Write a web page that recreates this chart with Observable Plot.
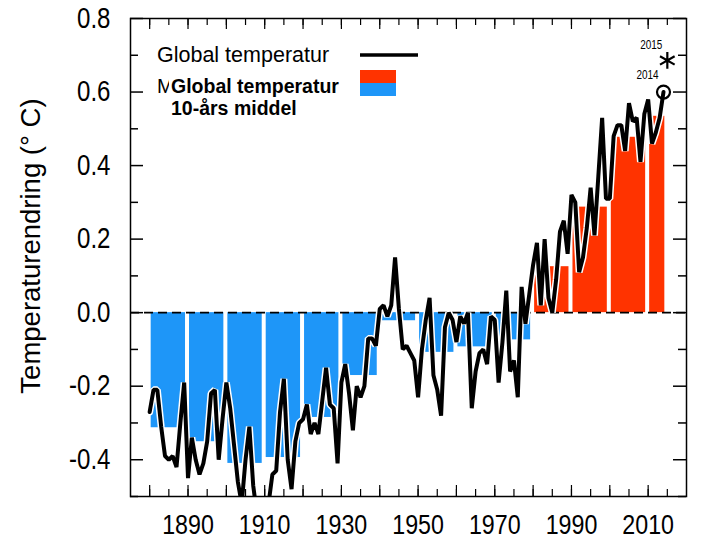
<!DOCTYPE html>
<html>
<head>
<meta charset="utf-8">
<script src="https://cdn.jsdelivr.net/npm/d3@7"></script>
<script src="https://cdn.jsdelivr.net/npm/@observablehq/plot@0.6"></script>
<style>
  body { margin: 0; background: #fff; }
  #chart { width: 720px; height: 540px; }
</style>
</head>
<body>
<div id="chart"></div>
<script>
// ---- Data ----
const firstYear = 1880;
const annualAnomaly = [
  -0.27, -0.21, -0.21, -0.31, -0.39, -0.40, -0.39, -0.42, -0.30, -0.19, // 1880s
  -0.45, -0.34, -0.40, -0.44, -0.41, -0.35, -0.22, -0.21, -0.40, -0.29, // 1890s
  -0.19, -0.26, -0.36, -0.46, -0.52, -0.40, -0.31, -0.47, -0.55, -0.58, // 1900s
  -0.55, -0.52, -0.44, -0.43, -0.27, -0.18, -0.40, -0.48, -0.35, -0.30, // 1910s
  -0.29, -0.25, -0.33, -0.30, -0.33, -0.24, -0.15, -0.25, -0.26, -0.41, // 1920s
  -0.19, -0.14, -0.22, -0.32, -0.20, -0.23, -0.20, -0.07, -0.07, -0.09, // 1930s
   0.01,  0.02, -0.01,  0.02,  0.15,  0.01, -0.10, -0.09, -0.11, -0.13, // 1940s
  -0.23, -0.10, -0.02,  0.04, -0.17, -0.21, -0.28, -0.04,  0.00, -0.02, // 1950s
  -0.08, -0.01, -0.03,  0.00, -0.26, -0.16, -0.11, -0.10, -0.14, -0.01, // 1960s
  -0.02, -0.19, -0.08,  0.06, -0.16, -0.13, -0.23,  0.07, -0.03,  0.05, // 1970s
   0.13,  0.19,  0.02,  0.20,  0.04,  0.00,  0.09,  0.22,  0.25,  0.16, // 1980s
   0.32,  0.30,  0.11,  0.15,  0.23,  0.34,  0.21,  0.37,  0.53,  0.31, // 1990s
   0.31,  0.48,  0.51,  0.51,  0.44,  0.57,  0.52,  0.53,  0.41,  0.54, // 2000s
   0.58,  0.46,  0.49,  0.53,  0.60                                       // 2010-2014
];
const decadeStart = [1880, 1890, 1900, 1910, 1920, 1930, 1940, 1950, 1960, 1970, 1980, 1990, 2000, 2010];
const decadeEnd   = [1890, 1900, 1910, 1920, 1930, 1940, 1950, 1960, 1970, 1980, 1990, 2000, 2010, 2015];
const decadeMean  = [-0.313, -0.351, -0.410, -0.394, -0.285, -0.171, -0.022, -0.108, -0.093, -0.074, 0.125, 0.287, 0.477, 0.534];

const markYears  = [2014, 2015];
const markValues = [0.60, 0.686];
const markLabels = ["2014", "2015"];

const xTickLabels = [1890, 1910, 1930, 1950, 1970, 1990, 2010];
const xTicksMinor = [1880, 1885, 1890, 1895, 1900, 1905, 1910, 1915, 1920, 1925, 1930, 1935, 1940, 1945, 1950, 1955, 1960, 1965, 1970, 1975, 1980, 1985, 1990, 1995, 2000, 2005, 2010, 2015];
const xTicksMajor = [1880, 1890, 1900, 1910, 1920, 1930, 1940, 1950, 1960, 1970, 1980, 1990, 2000, 2010];
const yTickLabels = [-0.4, -0.2, 0.0, 0.2, 0.4, 0.6, 0.8];
const yTicksMinor = [-0.5, -0.3, -0.1, 0.1, 0.3, 0.5, 0.7];

const yTitle = "Temperaturendring (° C)";
const legendLine = "Global temperatur";
const legendBarLines = ["Global temperatur", "10-års middel"];

const RED = "#ff3300", BLUE = "#1e96f8";

// ---- Tables ----
const annual = annualAnomaly.map((v, i) => ({year: firstYear + i, value: v}));
const decades = decadeStart.map((s, i) => ({start: s, end: decadeEnd[i], mean: decadeMean[i]}));
const marks = markYears.map((y, i) => ({year: y, value: markValues[i], label: markLabels[i]}));

const W = 720, H = 540, mL = 130, mR = 34, mT = 18, mB = 44;
const pw = W - mL - mR, ph = H - mT - mB;
const FONT = "Liberation Sans, Arial, Helvetica, sans-serif";

const plot = Plot.plot({
  width: W, height: H,
  marginLeft: mL, marginRight: mR, marginTop: mT, marginBottom: mB,
  x: {domain: [1875, 2020]},
  y: {domain: [-0.5, 0.8]},
  style: {fontFamily: FONT, background: "white", color: "black"},
  marks: [
    Plot.rectY(decades, {
      x1: "start", x2: "end", y: "mean",
      fill: d => d.mean >= 0 ? RED : BLUE,
      insetLeft: 1.5, insetRight: 2.5
    }),
    Plot.ruleY([0], {stroke: "black", strokeWidth: 1.6, strokeDasharray: "9,5"}),
    Plot.line(annual, {x: "year", y: "value", stroke: "white", strokeWidth: 7, strokeLinejoin: "miter", clip: true}),
    Plot.line(annual, {x: "year", y: "value", stroke: "black", strokeWidth: 4, strokeLinejoin: "miter", clip: true}),
    Plot.dot(marks.filter(d => d.year === 2014), {x: "year", y: "value", r: 6.5, stroke: "black", strokeWidth: 2.2, fill: "none"}),
    Plot.dot(marks.filter(d => d.year === 2015), {x: "year", y: "value", r: 8, symbol: "asterisk", stroke: "black", strokeWidth: 2.2}),
    Plot.text(marks.filter(d => d.year === 2015), {x: "year", y: "value", text: "label", dx: -16, dy: -15, fontSize: 12, fill: "black"}),
    Plot.text(marks.filter(d => d.year === 2014), {x: "year", y: "value", text: "label", dx: -16, dy: -17, fontSize: 12, fill: "black"}),
    // inward ticks
    Plot.tickY(yTickLabels, {y: d => d, insetRight: pw - 13, stroke: "black", strokeWidth: 1.5}),
    Plot.tickY(yTicksMinor, {y: d => d, insetRight: pw - 8, stroke: "black", strokeWidth: 1.5}),
    Plot.tickY(yTickLabels, {y: d => d, insetLeft: pw - 13, stroke: "black", strokeWidth: 1.5}),
    Plot.tickY(yTicksMinor, {y: d => d, insetLeft: pw - 8, stroke: "black", strokeWidth: 1.5}),
    Plot.tickX(xTicksMinor, {x: d => d, insetTop: ph - 7, stroke: "black", strokeWidth: 1.2}),
    Plot.tickX(xTicksMajor, {x: d => d, insetTop: ph - 11, stroke: "black", strokeWidth: 1.2}),
    Plot.tickX(xTicksMinor, {x: d => d, insetBottom: ph - 7, stroke: "black", strokeWidth: 1.2}),
    Plot.tickX(xTicksMajor, {x: d => d, insetBottom: ph - 11, stroke: "black", strokeWidth: 1.2}),
    Plot.frame({stroke: "black", strokeWidth: 1.5}),
    Plot.axisY(yTickLabels, {anchor: "left", tickSize: 0, tickPadding: 20, fontSize: 29, tickFormat: d => d.toFixed(1), label: null}),
    Plot.axisX(xTickLabels, {anchor: "bottom", tickSize: 0, tickPadding: 18, fontSize: 28, tickFormat: d => String(d), label: null})
  ]
});

// horizontally condense the tick/annotation text like the reference
d3.select(plot).selectAll("text").each(function () {
  const t = this.getAttribute("transform");
  if (t && t.includes("translate")) this.setAttribute("transform", t + " scale(0.83,1)");
});

const svg = d3.select(plot);

// y-axis title
svg.append("text")
  .attr("transform", "translate(40,246) rotate(-90)")
  .attr("text-anchor", "middle")
  .attr("font-family", FONT)
  .attr("font-size", 27.5)
  .attr("fill", "black")
  .text(yTitle);

// legend
const lg = svg.append("g").attr("font-family", FONT).attr("fill", "black").attr("text-anchor", "start");
lg.append("text").attr("x", 157).attr("y", 62).attr("font-size", 21.5).text(legendLine);
lg.append("line").attr("x1", 360).attr("x2", 418).attr("y1", 55).attr("y2", 55)
  .attr("stroke", "black").attr("stroke-width", 3.3);
lg.append("text").attr("x", 157).attr("y", 93).attr("font-size", 20).text("M");
lg.append("rect").attr("x", 169).attr("y", 76).attr("width", 180).attr("height", 44).attr("fill", "white");
lg.append("text").attr("x", 171).attr("y", 93).attr("font-size", 19.5).attr("font-weight", "bold").text(legendBarLines[0]);
lg.append("text").attr("x", 171).attr("y", 115).attr("font-size", 19.5).attr("font-weight", "bold").text(legendBarLines[1]);
lg.append("rect").attr("x", 360).attr("y", 70).attr("width", 36).attr("height", 13).attr("fill", RED);
lg.append("rect").attr("x", 360).attr("y", 83).attr("width", 36).attr("height", 13).attr("fill", BLUE);

document.getElementById("chart").appendChild(plot);
</script>
</body>
</html>
